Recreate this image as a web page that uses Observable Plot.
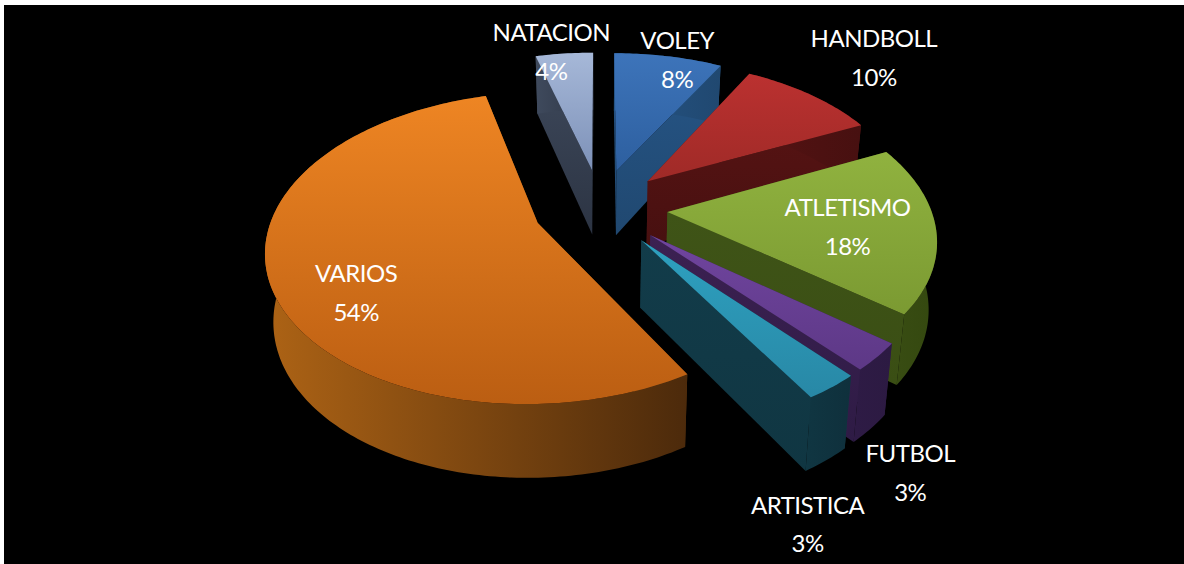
<!DOCTYPE html>
<html>
<head>
<meta charset="utf-8">
<style>
html,body{margin:0;padding:0;background:#fff;overflow:hidden}
svg{display:block;background:#000;clip-path:inset(5px 0 0 4px)}
svg text{letter-spacing:-0.5px}
</style>
<script src="https://cdn.jsdelivr.net/npm/d3@7"></script>
<script src="https://cdn.jsdelivr.net/npm/@observablehq/plot@0.6"></script>
</head>
<body>
<div id="chart"></div>
<script>
// ---- data (clockwise from 12 o'clock)
const categories = ["VOLEY","HANDBOLL","ATLETISMO","FUTBOL","ARTISTICA","VARIOS","NATACION"];
const shares = [7.9,10,17.8,2.9,2.8,54.4,4.2];

// ---- styles
const topFrom  = ["#3d74ba","#bb3130","#90b23f","#70459f","#2ea1c0","#ee8523","#a6b8d8"];
const topTo    = ["#2d5f9f","#9f2a27","#7b9a32","#5d3886","#2888a6","#bb5e12","#7d91b8"];
const sideFrom = ["#265586","#561313","#3f5417","#3c2152","#123c4a","#ad6315","#3f4a5d"];
const sideTo   = ["#204870","#471010","#3a4e14","#2e1b45","#103642","#4c2a0b","#2c3443"];
const arcFrom  = ["#265586","#561313","#3a4e14","#2e1b45","#103642","#ad6315","#3f4a5d"];
const arcTo    = ["#204870","#471010","#34480f","#2c1a42","#0f303c","#4c2a0b","#2c3443"];

// ---- view model
const view = {cx:600, cy:207, R:263, B:147, p:0.158, ex:0.255, ey:0.266, depth:66, depthGrow:7, converge:0.975};
const labelRadius = [0.975,1.467,0.674,1.426,1.462,0.752,1.022];
const labelTurn   = [2.7,-0.6,2.2,15.4,18.6,-12,-3.2];
const paintOrder  = [6,0,1,2,5,3,4];

const rad = d => d * Math.PI / 180;
const total = d3.sum(shares);
const ends = d3.cumsum(shares).map(c => c / total * 360);
const slices = categories.map((name,i) => {
  const a0 = i ? ends[i-1] : 0, a1 = ends[i], mid = (a0+a1)/2;
  return {i, name, share:Math.round(shares[i]), a0, a1, mid,
          ox: view.ex*Math.sin(rad(mid)), oy: -view.ey*Math.cos(rad(mid))};
});
function project(s, angle, r, lower){
  const u = s.ox + r*Math.sin(rad(angle));
  const v = s.oy - r*Math.cos(rad(angle));
  const w = 1/(1 - view.p*v);
  let x = view.cx + view.R*u*w;
  let y = view.cy + view.B*v*w;
  if (lower){
    x = view.cx + (x-view.cx)*view.converge;
    y += view.depth + view.depthGrow*v;
  }
  return {x,y};
}
function arc(s, from, to, lower){
  const n = Math.max(2, Math.ceil(Math.abs(to-from)));
  return d3.range(n+1).map(k => project(s, from+(to-from)*k/n, 1, lower));
}
const polys = [];
for (const i of paintOrder){
  const s = slices[i];
  const apexT = project(s,0,0,false), apexB = project(s,0,0,true);
  const rw = a => [apexT, project(s,a,1,false), project(s,a,1,true), apexB];
  polys.push({pts:rw(s.a0), fill:`url(#side${i})`});
  polys.push({pts:rw(s.a1), fill:`url(#side${i})`});
  polys.push({pts:[...arc(s,s.a0,s.a1,false), ...arc(s,s.a1,s.a0,true)], fill:`url(#wall${i})`});
  polys.push({pts:[apexT, ...arc(s,s.a0,s.a1,false)], fill:`url(#top${i})`});
}
const labels = slices.map((s,i) => ({
  text:`${s.name}\n${s.share}%`,
  ...project(s, s.mid+labelTurn[i], labelRadius[i], false)
}));

function gradients(){
  const defs = d3.create("svg:defs");
  const add = (id,x2,y2,a,b) => {
    const g = defs.append("linearGradient").attr("id",id).attr("x1",0).attr("y1",0).attr("x2",x2).attr("y2",y2);
    g.append("stop").attr("offset",0).attr("stop-color",a);
    g.append("stop").attr("offset",1).attr("stop-color",b);
  };
  categories.forEach((_,i) => {
    add(`top${i}`,0,1,topFrom[i],topTo[i]);
    add(`side${i}`,0,1,sideFrom[i],sideTo[i]);
    add(`wall${i}`,1,0,arcFrom[i],arcTo[i]);
  });
  return defs.node();
}

const chart = Plot.plot({
  width:1184, height:564, margin:0,
  x:{domain:[0,1184],range:[0,1184],axis:null},
  y:{domain:[0,564],range:[0,564],axis:null},
  marks:[
    gradients,
    ...polys.map(p => Plot.line(p.pts,{x:"x",y:"y",curve:"linear-closed",fill:p.fill,stroke:"none"})),
    Plot.text(labels,{x:"x",y:"y",dy:-4.5,text:"text",fill:"#fff",fontFamily:"Lato",fontSize:24,lineHeight:1.62,textAnchor:"middle",lineAnchor:"middle"})
  ]
});
document.getElementById("chart").appendChild(chart);
</script>
</body>
</html>
